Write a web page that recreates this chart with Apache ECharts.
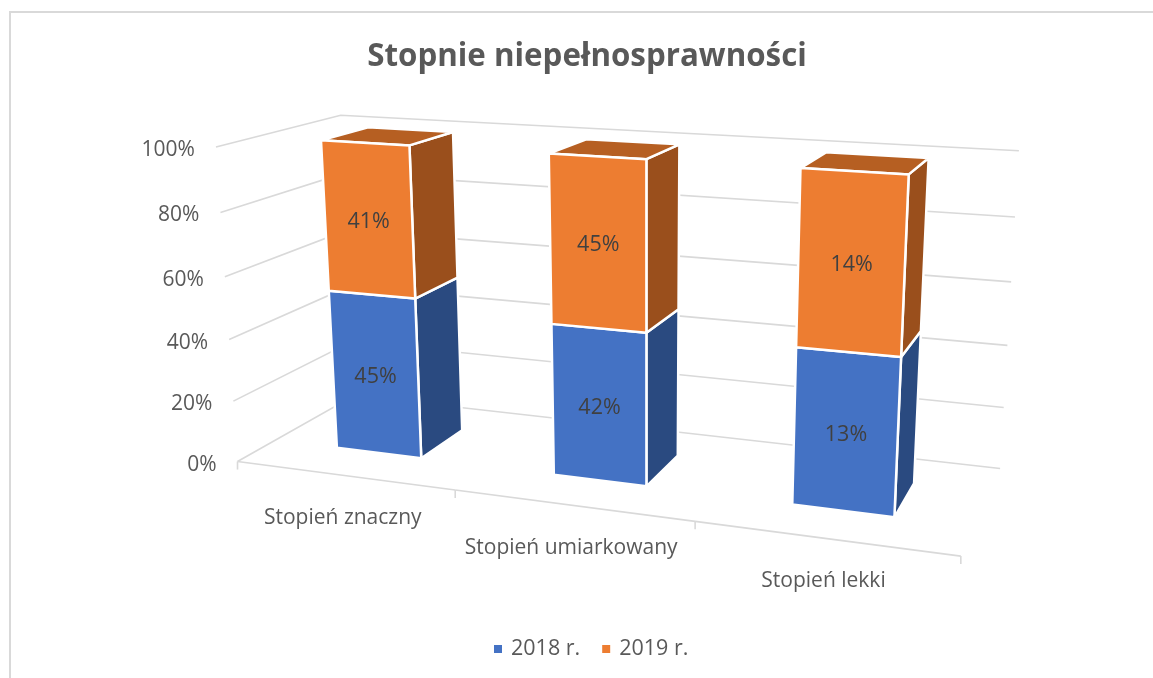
<!DOCTYPE html>
<html><head><meta charset="utf-8">
<style>html,body{margin:0;padding:0;background:#fff}#c{width:1153px;height:678px}</style>
<script src="https://cdn.jsdelivr.net/npm/echarts@6/dist/echarts.min.js"></script>
</head><body><div id="c"></div>
<script>
const categories = ['Stopień znaczny', 'Stopień umiarkowany', 'Stopień lekki'];
const values2018 = [45, 42, 13];
const values2019 = [41, 45, 14];
const seriesNames = ['2018 r.', '2019 r.'];
const yTicks = [0, 20, 40, 60, 80, 100];
const titleText = 'Stopnie niepełnosprawności';

// camera calibration: model (x,y,z) -> screen
const cameraAnchors = [
  [0,0,0,237,461],[0,1,0,216.7,147],[1,0,0,455,490],[2,0,0,695,522],[3,0,0,961,556],
  [0,1,1,340,115],[0,0,1,355,396],[3,1,1,1019,151],[3,0,1,1000,468]
];
function solveCamera(pts){
  const n=11, A=[...Array(n)].map(()=>Array(n+1).fill(0));
  const add=(r,t)=>{for(let i=0;i<n;i++){for(let j=0;j<n;j++)A[i][j]+=r[i]*r[j];A[i][n]+=r[i]*t;}};
  pts.forEach(([x,y,z,u,v])=>{
    add([x,y,z,1,0,0,0,0,-u*x,-u*y,-u*z],u);
    add([0,0,0,0,x,y,z,1,-v*x,-v*y,-v*z],v);
  });
  for(let i=0;i<n;i++){
    let m=i;for(let k=i+1;k<n;k++)if(Math.abs(A[k][i])>Math.abs(A[m][i]))m=k;
    [A[i],A[m]]=[A[m],A[i]];
    for(let k=0;k<n;k++){if(k===i)continue;const f=A[k][i]/A[i][i];for(let j=i;j<=n;j++)A[k][j]-=f*A[i][j];}
  }
  return A.map((r,i)=>r[n]/r[i]);
}
const P=solveCamera(cameraAnchors);
function project(x,y,z){
  const w=P[8]*x+P[9]*y+P[10]*z+1;
  return [(P[0]*x+P[1]*y+P[2]*z+P[3])/w,(P[4]*x+P[5]*y+P[6]*z+P[7])/w];
}
const barHalf=0.2, zFront=0.3, zBack=0.7;
const gridColor='#D9D9D9', textColor='#595959', labelColor='#404040';
const fontFamily='"Open Sans"';
const palette=[
  {front:'#4472C4',side:'#2A4A80',top:'#2F5597'},
  {front:'#ED7D31',side:'#9A4F1C',top:'#B65F22'}
];

function modelOf(api,params,cat,val){
  const c=api.coord([cat,val]), cs=params.coordSys;
  return [(c[0]-cs.x)/cs.width*categories.length,(cs.y+cs.height-c[1])/cs.height];
}
function face(points,fill,sw){
  return {type:'polygon',shape:{points},style:{fill,stroke:'#fff',lineWidth:sw,lineJoin:'round'}};
}
function barRender(si,isTop){
  return function(params,api){
    const cat=api.value(0), lo=api.value(1), hi=api.value(2), raw=api.value(3);
    const [mx,y0]=modelOf(api,params,cat,lo);
    const [,y1]=modelOf(api,params,cat,hi);
    const x0=mx-barHalf,x1=mx+barHalf,col=palette[si];
    const F=[project(x0,y0,zFront),project(x1,y0,zFront),project(x1,y1,zFront),project(x0,y1,zFront)];
    const children=[
      face([project(x1,y0,zFront),project(x1,y0,zBack),project(x1,y1,zBack),project(x1,y1,zFront)],col.side,2.5)
    ];
    if(isTop) children.push(face([project(x0,y1,zFront),project(x1,y1,zFront),project(x1,y1,zBack),project(x0,y1,zBack)],col.top,2.5));
    children.push(face(F,col.front,2.5));
    const cx=(F[0][0]+F[1][0]+F[2][0]+F[3][0])/4, cy=(F[0][1]+F[1][1]+F[2][1]+F[3][1])/4;
    children.push({type:'text',style:{text:raw+'%',x:cx,y:cy+3,align:'center',verticalAlign:'middle',fill:labelColor,font:'21.5px '+fontFamily}});
    return {type:'group',children};
  };
}
function lineEl(points,w){
  return {type:'polyline',shape:{points},style:{fill:'none',stroke:gridColor,lineWidth:w||1.6}};
}
function gridRender(params,api){
  const t=api.value(0), [,y]=modelOf(api,params,0,t), n=categories.length;
  const a=project(0,y,0);
  return {type:'group',children:[
    lineEl([a,project(0,y,1),project(n,y,1)]),
    {type:'text',style:{text:t+'%',x:a[0]-21,y:a[1]+3,align:'right',verticalAlign:'middle',fill:textColor,font:'21px '+fontFamily}}
  ]};
}
function catRender(params,api){
  const i=api.value(0), [mx,y]=modelOf(api,params,i,0);
  const p=project(mx,y,0), l=project(mx-0.5,y,0), r=project(mx+0.5,y,0);
  const ch=[
    lineEl([l,r]),
    lineEl([r,[r[0],r[1]+8]])
  ];
  if(i===0) ch.push(lineEl([l,[l[0],l[1]+8]]));
  ch.push({type:'text',style:{text:categories[i],x:p[0]-1,y:p[1]+43,align:'center',verticalAlign:'middle',fill:textColor,font:'21px '+fontFamily}});
  return {type:'group',children:ch};
}
const totals=values2018.map((v,i)=>v+values2019[i]);
const data2018=values2018.map((v,i)=>[i,0,v/totals[i]*100,v]);
const data2019=values2019.map((v,i)=>[i,values2018[i]/totals[i]*100,100,v]);

const chart=echarts.init(document.getElementById('c'),null,{renderer:'canvas'});
chart.setOption({
  animation:false,
  backgroundColor:'#fff',
  title:{text:titleText,left:582,top:37,textAlign:'center',
    textStyle:{fontFamily:fontFamily,fontWeight:'bold',fontSize:31.3,color:textColor}},
  legend:{data:seriesNames.map(name=>({name,icon:'rect'})),left:489,top:633,itemWidth:8,itemHeight:8,itemGap:22,
    selectedMode:false,textStyle:{fontFamily:fontFamily,fontSize:21.5,color:textColor,padding:[0,0,0,4]}},
  grid:{left:0,right:0,top:0,bottom:0},
  xAxis:{type:'category',data:categories,show:false},
  yAxis:{type:'value',min:0,max:100,interval:20,show:false},
  graphic:[{type:'polyline',silent:true,shape:{points:[[10,678],[10,12],[1153,12]]},style:{fill:'none',stroke:'#D9D9D9',lineWidth:2}}],
  series:[
    {type:'custom',name:'grid',coordinateSystem:'cartesian2d',clip:false,silent:true,z:1,data:yTicks.map(t=>[t]),encode:{y:0},renderItem:gridRender},
    {type:'custom',name:'cats',coordinateSystem:'cartesian2d',clip:false,silent:true,z:1,data:categories.map((c,i)=>[i]),encode:{x:0},renderItem:catRender},
    {type:'custom',name:seriesNames[0],coordinateSystem:'cartesian2d',clip:false,silent:true,z:2,itemStyle:{color:palette[0].front},data:data2018,encode:{x:0,y:[1,2]},renderItem:barRender(0,false)},
    {type:'custom',name:seriesNames[1],coordinateSystem:'cartesian2d',clip:false,silent:true,z:3,itemStyle:{color:palette[1].front},data:data2019,encode:{x:0,y:[1,2]},renderItem:barRender(1,true)}
  ]
});
</script></body></html>
